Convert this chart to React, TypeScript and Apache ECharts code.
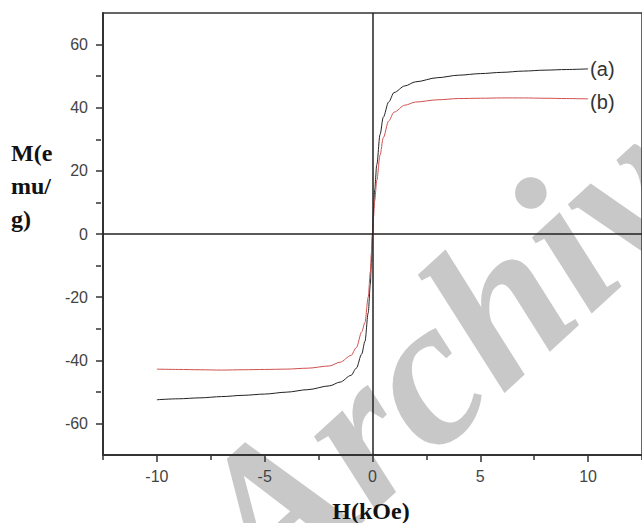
import React, { useEffect, useRef } from 'react';
import * as echarts from 'echarts';

// Field H (kOe)
const fieldH = [
  -10, -9, -8, -7, -6, -5, -4, -3, -2, -1.5, -1, -0.75, -0.5, -0.35, -0.2, -0.1, -0.05, 0,
  0.05, 0.1, 0.2, 0.35, 0.5, 0.75, 1, 1.5, 2, 3, 4, 5, 6, 7, 8, 9, 10,
];
// Sample (a) magnetization M (emu/g)
const magA = [
  -52.5, -52.2, -51.9, -51.5, -51.1, -50.7, -50.1, -49.3, -48.1, -46.9, -44.8, -42.5, -38, -34, -25, -16, -9, 0,
  8, 14, 22, 31.5, 37, 41.8, 44.8, 46.9, 48.2, 49.5, 50.3, 50.8, 51.2, 51.6, 51.9, 52.1, 52.3,
];
// Sample (b) magnetization M (emu/g)
const magB = [
  -42.8, -42.9, -43.0, -43.1, -43.0, -42.9, -42.8, -42.5, -41.8, -40.6, -38.5, -36, -31, -28, -20, -12, -6, 0,
  5.5, 10.5, 17, 25, 30.5, 35.8, 38.6, 40.8, 41.8, 42.5, 42.9, 43.0, 43.1, 43.1, 43.0, 42.9, 42.8,
];
const seriesNames = ['(a)', '(b)'];
const xMajorTicks = [-10, -5, 0, 5, 10];
const xMinorTicks = [-12.5, -7.5, -2.5, 2.5, 7.5, 12.5];
const yMajorTicks = [-60, -40, -20, 0, 20, 40, 60];
const yMinorTicks = [-50, -30, -10, 10, 30, 50];
const yTitleLines = ['M(e', 'mu/', 'g)'];
const xTitle = 'H(kOe)';
const watermark = 'Archive';

export default function App() {
  const ref = useRef<HTMLDivElement>(null);
  useEffect(() => {
    if (!ref.current) return;
    const chart = echarts.init(ref.current, undefined, { renderer: 'svg' });
    const axisColor = '#333';
    const labelStyle = { fontSize: 16, color: '#444', fontFamily: 'Liberation Sans, Arial, sans-serif' };
    const gridW = 541;
    const gridH = 442;
    chart.setOption({
      animation: false,
      backgroundColor: '#fff',
      grid: {
        left: 103, top: 13, width: gridW, height: gridH,
        show: true, borderColor: axisColor, borderWidth: 1.5, backgroundColor: 'transparent',
      },
      xAxis: [
        {
          type: 'value', min: -12.5, max: 12.5, position: 'bottom',
          axisLine: { onZero: false, lineStyle: { color: axisColor, width: 2 } },
          axisTick: { customValues: xMajorTicks, length: 7, lineStyle: { color: axisColor, width: 1.5 } },
          axisLabel: { customValues: xMajorTicks, margin: 13, ...labelStyle },
          splitLine: { show: false },
        },
        {
          type: 'value', min: -12.5, max: 12.5, position: 'top', offset: -gridH,
          axisLine: { show: false, onZero: false },
          axisTick: { inside: true, customValues: xMinorTicks, length: 5, lineStyle: { color: axisColor, width: 1.5 } },
          axisLabel: { show: false },
          splitLine: { show: false },
        },
      ],
      yAxis: [
        {
          type: 'value', min: -70, max: 70, position: 'left',
          axisLine: { onZero: false, lineStyle: { color: axisColor, width: 2 } },
          axisTick: { customValues: yMajorTicks, length: 7, lineStyle: { color: axisColor, width: 1.5 } },
          axisLabel: { customValues: yMajorTicks, margin: 15, ...labelStyle },
          splitLine: { show: false },
        },
        {
          type: 'value', min: -70, max: 70, position: 'right', offset: -gridW,
          axisLine: { show: false, onZero: false },
          axisTick: { inside: true, customValues: yMinorTicks, length: 5, lineStyle: { color: axisColor, width: 1.5 } },
          axisLabel: { show: false },
          splitLine: { show: false },
        },
      ],
      graphic: [
        {
          type: 'text', z: -1, x: 292, y: 633, rotation: 0.74, silent: true,
          style: {
            text: watermark, fontSize: 210, fontFamily: 'Liberation Serif, Times New Roman, serif',
            fontWeight: 'bold', fontStyle: 'italic', fill: '#c8c8c8',
            textAlign: 'left', textVerticalAlign: 'bottom',
          },
        },
        ...yTitleLines.map((t, i) => ({
          type: 'text', x: 11, y: 153 + i * 33, silent: true,
          style: {
            text: t, fontSize: 24, fontWeight: 'bold', fontFamily: 'Liberation Serif, Times New Roman, serif',
            fill: '#111', textAlign: 'left', textVerticalAlign: 'middle',
          },
        })),
        {
          type: 'text', x: 371, y: 511, silent: true,
          style: {
            text: xTitle, fontSize: 24, fontWeight: 'bold', fontFamily: 'Liberation Serif, Times New Roman, serif',
            fill: '#111', textAlign: 'center', textVerticalAlign: 'middle',
          },
        },
      ],
      series: [
        {
          name: seriesNames[0], type: 'line', xAxisIndex: 0, yAxisIndex: 0,
          data: fieldH.map((h, i) => [h, magA[i]]),
          showSymbol: false, smooth: 0.3, smoothMonotone: 'x', z: 3,
          lineStyle: { color: '#222', width: 1 }, itemStyle: { color: '#222' },
          endLabel: { show: true, formatter: seriesNames[0], distance: 2, fontSize: 20, color: '#333', fontFamily: 'Liberation Sans, Arial, sans-serif' },
          markLine: {
            silent: true, symbol: 'none', animation: false, label: { show: false },
            lineStyle: { color: '#222', width: 1.5, type: 'solid' },
            data: [{ xAxis: 0 }, { yAxis: 0 }],
          },
        },
        {
          name: seriesNames[1], type: 'line', xAxisIndex: 0, yAxisIndex: 0,
          data: fieldH.map((h, i) => [h, magB[i]]),
          showSymbol: false, smooth: 0.3, smoothMonotone: 'x', z: 4,
          lineStyle: { color: '#d05050', width: 1 }, itemStyle: { color: '#d05050' },
          endLabel: { show: true, formatter: seriesNames[1], distance: 2, offset: [0, 3], fontSize: 20, color: '#333', fontFamily: 'Liberation Sans, Arial, sans-serif' },
        },
      ],
    });
    return () => chart.dispose();
  }, []);
  return <div ref={ref} style={{ position: 'fixed', left: 0, top: 0, width: 642, height: 523 }} />;
}
